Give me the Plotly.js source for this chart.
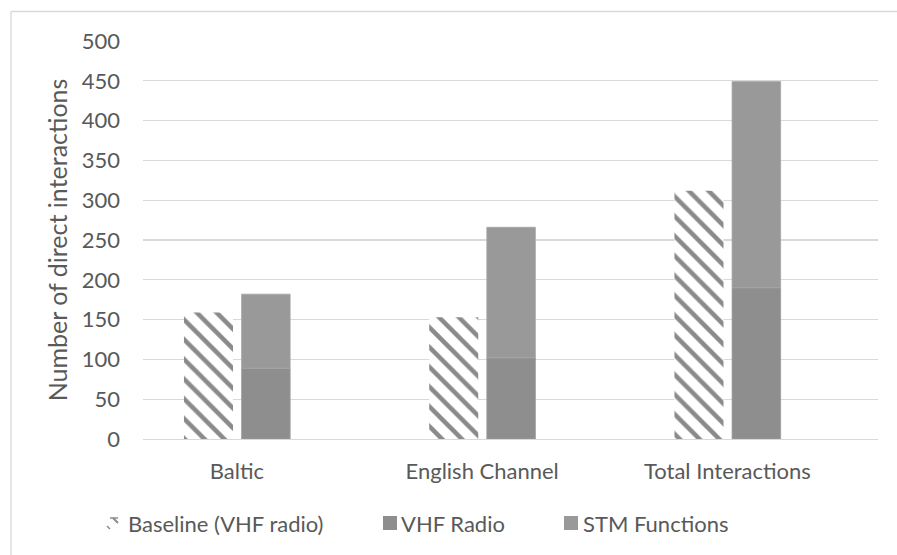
<!DOCTYPE html>
<html>
<head>
<meta charset="utf-8">
<script src="https://cdn.plot.ly/plotly-3.0.1.min.js"></script>
<style>html,body{margin:0;padding:0;background:#fff;}#chart{width:897px;height:555px;}</style>
</head>
<body>
<div id="chart"></div>
<script>
// ---- data ----
var categories = ['Baltic', 'English Channel', 'Total Interactions'];
var seriesNames = ['Baseline (VHF radio)', 'VHF Radio', 'STM Functions'];
var baselineValues = [159, 153, 312];
var vhfValues = [89, 102, 190];
var stmValues = [93, 164, 259];
var yTickValues = [0, 50, 100, 150, 200, 250, 300, 350, 400, 450, 500];

// ---- geometry helpers (pixel -> paper) ----
var W = 897, H = 555, L = 143, R = 19, T = 41, B = 116;
var pw = W - L - R, ph = H - T - B;
function px(x) { return (x - L) / pw; }
function py(y) { return (H - B - y) / ph; }

var xIdx = categories.map(function (c, i) { return i; });
var font = 'Lato, "Open Sans", sans-serif';
var txt = '#595959';
var fs = 22;

var traces = [
  {
    type: 'bar', name: seriesNames[0], x: xIdx, y: baselineValues,
    width: 0.2, offset: -0.216,
    marker: { color: '#ffffff', line: { width: 0 },
      pattern: { shape: '\\', fgcolor: '#8a8a8a', fgopacity: 1, bgcolor: '#ffffff', size: 14, solidity: 0.32, fillmode: 'overlay' } },
    showlegend: false, hoverinfo: 'y'
  },
  {
    type: 'bar', name: seriesNames[1], x: xIdx, y: vhfValues,
    width: 0.198, offset: 0.019,
    marker: { color: '#8e8e8e', line: { width: 0.8, color: '#9c9c9c' } },
    showlegend: false
  },
  {
    type: 'bar', name: seriesNames[2], x: xIdx, y: stmValues, base: vhfValues,
    width: 0.198, offset: 0.019,
    marker: { color: '#999999', line: { width: 0.8, color: '#a6a6a6' } },
    showlegend: false
  }
];

var shapes = [
  // chart frame (left and top edges visible)
  { type: 'line', xref: 'paper', yref: 'paper', x0: px(11), x1: px(11), y0: py(11.5), y1: py(560), line: { color: '#d9d9d9', width: 1.3 } },
  { type: 'line', xref: 'paper', yref: 'paper', x0: px(11), x1: px(905), y0: py(11.5), y1: py(11.5), line: { color: '#d9d9d9', width: 1.3 } },
  // legend icons
  { type: 'line', xref: 'paper', yref: 'paper', x0: px(113), x1: px(118), y0: py(518), y1: py(523), line: { color: '#8c8c8c', width: 2 } },
  { type: 'line', xref: 'paper', yref: 'paper', x0: px(107), x1: px(110), y0: py(526), y1: py(529), line: { color: '#8c8c8c', width: 1.5 } },
  { type: 'line', xref: 'paper', yref: 'paper', x0: px(110), x1: px(118), y0: py(518), y1: py(518), line: { color: '#8c8c8c', width: 1.5 } },
  { type: 'rect', xref: 'paper', yref: 'paper', x0: px(383), x1: px(397), y0: py(530), y1: py(516), fillcolor: '#8e8e8e', line: { width: 0 } },
  { type: 'rect', xref: 'paper', yref: 'paper', x0: px(564), x1: px(578), y0: py(530), y1: py(516), fillcolor: '#999999', line: { width: 0 } }
];

var legendX = [126, 399, 581];
var annotations = seriesNames.map(function (n, i) {
  return { text: n, xref: 'paper', yref: 'paper', x: px(legendX[i]), y: py(523),
    xanchor: 'left', yanchor: 'middle', showarrow: false,
    font: { family: font, size: fs, color: txt } };
});

var layout = {
  width: W, height: H,
  margin: { l: L, r: R, t: T, b: B, pad: 0 },
  paper_bgcolor: '#ffffff', plot_bgcolor: '#ffffff',
  barmode: 'overlay',
  showlegend: false,
  font: { family: font, size: fs, color: txt },
  xaxis: {
    range: [-0.383, 2.614], tickmode: 'array', tickvals: xIdx, ticktext: categories,
    showgrid: false, zeroline: false, showline: true, linecolor: '#d9d9d9', linewidth: 1.3,
    ticks: '', ticklabelstandoff: 12, fixedrange: true,
    tickfont: { family: font, size: fs, color: txt }
  },
  yaxis: {
    range: [0, 500], tickmode: 'array', tickvals: yTickValues,
    showgrid: true, gridcolor: '#d9d9d9', gridwidth: 1.3, zeroline: false, showline: false,
    ticks: '', ticklabelstandoff: 22, fixedrange: true,
    tickfont: { family: font, size: fs, color: txt },
    title: { text: 'Number of direct interactions', standoff: 6, font: { family: font, size: 25, color: txt } }
  },
  shapes: shapes,
  annotations: annotations
};

Plotly.newPlot('chart', traces, layout, { staticPlot: true, displayModeBar: false });
</script>
</body>
</html>
